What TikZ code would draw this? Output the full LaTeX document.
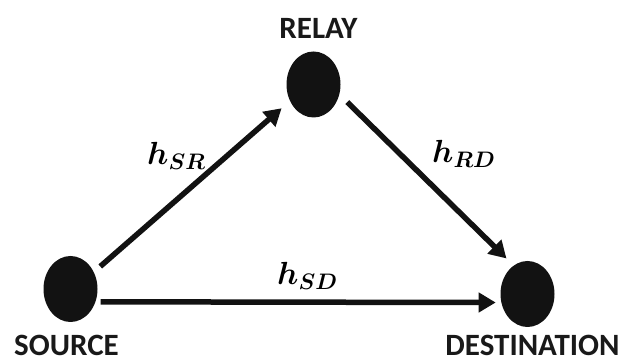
\RequirePackage{fix-cm}
\documentclass[tikz,border=0pt]{standalone}
\usepackage{fontspec}
\newfontfamily\labelfont{Carlito}
\usetikzlibrary{shapes.geometric,arrows.meta}

\tikzset{
  terminal/.style={ellipse, fill=black!93, draw=none, inner sep=0pt,
    minimum width=54pt, minimum height=66pt},
  nodename/.style={anchor=base, inner sep=0pt, text=black!90,
    font=\labelfont\bfseries\fontsize{31}{34}\selectfont},
  gain/.style={anchor=base west, inner sep=0pt,
    font=\fontsize{32}{36}\selectfont\boldmath},
  link/.style={line width=5.5pt, draw=black!93,
    -{Triangle[length=17pt,width=19pt]}},
}

\begin{document}
\begin{tikzpicture}[x=1pt,y=1pt]
  \useasboundingbox (0,0) rectangle (632,364);

  % terminals
  \node[terminal] (src) at (70.5,75) {};
  \node[terminal] (rly) at (313.5,279.5) {};
  \node[terminal] (dst) at (527.5,70) {};

  % terminal names
  \node[nodename] (srcname) at (66.5,8) {SOURCE};
  \node[nodename] (rlyname) at (318.5,325) {RELAY};
  \node[nodename] (dstname) at (532.5,8.5)  {DESTINATION};

  % links
  \draw[link, shorten <=8.5pt, shorten >=11pt] (src.36) -- (rly.215);
  \draw[link, shorten <=11pt, shorten >=10pt] (rly.-21) -- (dst.116);
  \draw[link, shorten <=5pt, shorten >=5.5pt] (src.-27) -- (dst.198);

  % channel gains
  \node[gain] (hsr) at (147,199) {$h_{SR}$};
  \node[gain] (hrd) at (432,201) {$h_{RD}$};
  \node[gain] (hsd) at (277,79)  {$h_{SD}$};
\end{tikzpicture}
\end{document}
